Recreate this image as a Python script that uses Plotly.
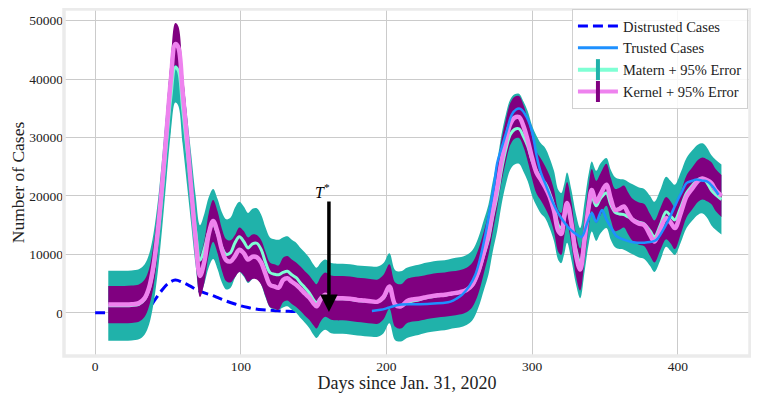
import plotly.graph_objects as go

# ---- data ----
distrust_days = [0, 5, 10, 20, 30, 35, 38, 41, 45, 50, 55, 60, 65, 70, 75, 80, 85, 90, 96, 100, 105, 110, 115, 120, 125, 130, 135, 140]
distrust_vals = [0, 0, 0, 20, 100, 400, 1100, 2200, 3600, 5000, 5600, 5200, 4600, 3900, 3400, 3000, 2500, 2000, 1500, 1200, 900, 650, 500, 420, 330, 270, 230, 210]

trust_days = [190, 196, 202, 209, 220, 230, 240, 244, 248, 252, 257, 261, 264, 268, 271, 274, 276, 280, 283, 286, 289, 292,
              296, 300, 303, 306, 310, 314, 318, 322, 326, 330, 334, 338, 341, 344, 348, 351, 354, 358, 362, 367, 372,
              377, 381, 385, 390, 395, 399, 403, 406, 410, 413, 417, 420, 424, 428]
trust_vals = [300, 500, 900, 1370, 1450, 1550, 1700, 1900, 2400, 3100, 4600, 6500, 9000, 13500, 17600, 22000, 25600, 29000,
              31500, 33900, 34800, 34900, 33600, 31000, 27000, 24000, 21500, 19000, 17000, 15500, 14300, 13500, 13000,
              15500, 17100, 15600, 17600, 16000, 14700, 13100, 12600, 12200, 12000, 12000, 12100, 12400, 14200, 16600,
              18800, 20800, 22200, 22600, 22800, 22600, 22500, 21600, 20200]

days = [9, 15, 20, 25, 30, 34, 37, 40, 43, 46, 49, 52, 55, 57, 60, 63, 66, 69, 72, 75, 78, 81, 84, 87, 90, 93, 96, 99,
        102, 105, 108, 111, 114, 117, 120, 123, 126, 129, 132, 135, 138, 141, 144, 147, 150, 152, 155, 158, 162, 166,
        170, 175, 180, 185, 190, 194, 198, 202, 206, 210, 214, 218, 222, 226, 230, 235, 240, 245, 250, 255, 259, 263,
        267, 270, 273, 276, 279, 282, 285, 288, 291, 294, 297, 300, 303, 306, 309, 312, 315, 318, 320, 322, 324, 327,
        330, 333, 336, 339, 341, 344, 347, 351, 354, 357, 360, 363, 366, 369, 373, 377, 381, 384, 388, 392, 395, 398,
        402, 406, 410, 414, 417, 420, 423, 426, 430]

kernel = [1400, 1400, 1400, 1450, 1650, 2500, 4300, 8000, 14000, 22000, 31000, 40000, 46000, 45500, 38000, 30000, 21000,
          12500, 6300, 8800, 13500, 15700, 13800, 10800, 9000, 8800, 9700, 10800, 10200, 9100, 9600, 9500, 8600, 6600,
          4800, 4500, 4300, 5600, 5900, 5300, 4800, 4100, 3300, 2600, 1600, 1100, 2400, 3100, 2600, 2500, 2500, 2400,
          2200, 2100, 1950, 1900, 2700, 4500, 1400, 1100, 2000, 2300, 2400, 2600, 2800, 3000, 3100, 3300, 3500, 3900,
          4800, 7000, 10500, 13500, 17500, 21500, 26000, 29500, 32300, 33400, 33500, 32000, 29500, 26500, 24000, 22800,
          21500, 19900, 17500, 14000, 13500, 16500, 18800, 15300, 10000, 7400, 12500, 18500, 21000, 19000, 20300, 21900,
          19500, 17600, 17800, 18200, 17000, 15900, 15300, 15000, 13300, 12200, 14300, 16200, 15500, 14500, 17000,
          19900, 21300, 22600, 23000, 22700, 22200, 21000, 20000]

matern = [1200, 1200, 1200, 1250, 1450, 2300, 4000, 7500, 13000, 20500, 29000, 37000, 42000, 41500, 35000, 28000, 21000,
          14000, 9000, 11000, 13800, 15200, 13500, 11200, 10000, 10300, 12000, 13000, 12200, 11100, 11800, 11900, 10800,
          8600, 6900, 6600, 6500, 6900, 7100, 6500, 6000, 5100, 4300, 3400, 2200, 1700, 2600, 3100, 2500, 2400, 2400,
          2300, 2100, 2000, 1900, 1900, 2500, 4200, 1300, 1100, 1700, 2000, 2200, 2500, 2700, 2900, 3000, 3300, 3500,
          3900, 4700, 6800, 10000, 12500, 16500, 20000, 24500, 28000, 30500, 31400, 31500, 30200, 28500, 26000, 24300,
          23000, 22200, 20500, 18300, 15000, 14500, 16000, 18000, 15000, 11000, 8500, 13000, 18000, 19900, 18300, 19600,
          20500, 18500, 17200, 16900, 16800, 16400, 16000, 15500, 15200, 14000, 13000, 15000, 17300, 16600, 15900,
          18000, 20500, 21800, 22800, 23000, 22300, 21000, 20200, 19400]

kernel_err = [3200] * 7 + [3600] * 20 + [3800] * 45 + [3600] * 53
matern_err = [6000] * 125

# ---- figure ----
fig = go.Figure()

fig.add_trace(go.Scatter(x=distrust_days, y=distrust_vals, mode='lines', showlegend=False,
                         line=dict(color='#0000ff', width=3, dash='10px,5px', shape='spline')))

# Matern 95% band
fig.add_trace(go.Scatter(x=days, y=[m + e for m, e in zip(matern, matern_err)], mode='lines',
                         line=dict(width=0, shape='spline'), showlegend=False, hoverinfo='skip'))
fig.add_trace(go.Scatter(x=days, y=[m - e for m, e in zip(matern, matern_err)], mode='lines',
                         line=dict(width=0, shape='spline'), fill='tonexty', fillcolor='#20b2aa',
                         showlegend=False, hoverinfo='skip'))
# Kernel 95% band
fig.add_trace(go.Scatter(x=days, y=[k + e for k, e in zip(kernel, kernel_err)], mode='lines',
                         line=dict(width=0, shape='spline'), showlegend=False, hoverinfo='skip'))
fig.add_trace(go.Scatter(x=days, y=[k - e for k, e in zip(kernel, kernel_err)], mode='lines',
                         line=dict(width=0, shape='spline'), fill='tonexty', fillcolor='#800080',
                         showlegend=False, hoverinfo='skip'))

fig.add_trace(go.Scatter(x=days, y=matern, mode='lines', showlegend=False,
                         line=dict(color='#7fffd4', width=3, shape='spline')))
fig.add_trace(go.Scatter(x=days, y=kernel, mode='lines', showlegend=False,
                         line=dict(color='#ee82ee', width=4.5, shape='spline')))
fig.add_trace(go.Scatter(x=trust_days, y=trust_vals, mode='lines', showlegend=False,
                         line=dict(color='#1e90ff', width=2.5, shape='spline')))

# legend entries
fig.add_trace(go.Scatter(x=[None], y=[None], mode='lines', name='Distrusted Cases',
                         line=dict(color='#0000ff', width=3, dash='10px,5px')))
fig.add_trace(go.Scatter(x=[None], y=[None], mode='lines', name='Trusted Cases',
                         line=dict(color='#1e90ff', width=3)))
fig.add_trace(go.Scatter(x=[None], y=[None], mode='lines+markers', name='Matern + 95% Error',
                         line=dict(color='#7fffd4', width=4),
                         marker=dict(symbol='line-ns', size=15, line=dict(color='#20b2aa', width=4))))
fig.add_trace(go.Scatter(x=[None], y=[None], mode='lines+markers', name='Kernel + 95% Error',
                         line=dict(color='#ee82ee', width=4),
                         marker=dict(symbol='line-ns', size=15, line=dict(color='#800080', width=4))))

# T* arrow
fig.add_annotation(x=160.5, y=150, ax=160.5, ay=19300, xref='x', yref='y', axref='x', ayref='y',
                   showarrow=True, arrowhead=2, arrowsize=1.0, arrowwidth=3.5, arrowcolor='black',
                   standoff=0, text='')
fig.add_annotation(x=156, y=20900, xref='x', yref='y', showarrow=False,
                   text='<i>T</i><sup>*</sup>', font=dict(size=16, color='black'))

# light grey axes frame
fig.add_shape(type='rect', xref='paper', yref='paper', x0=0, x1=1, y0=0, y1=1,
              line=dict(color='#ebebeb', width=3.5), layer='above')

# page body has an 8px margin, so the figure is 8px smaller and margins shifted
fig.update_layout(
    width=751, height=391,
    margin=dict(l=56, r=9, t=1, b=43, autoexpand=False),
    paper_bgcolor='white', plot_bgcolor='white',
    font=dict(family='Liberation Serif, serif', color='#222222'),
    legend=dict(x=0.997, y=1.0, xanchor='right', yanchor='top', bgcolor='rgba(255,255,255,0.85)',
                bordercolor='#d0d0d0', borderwidth=1, font=dict(size=14.5, color='#222222'),
                traceorder='normal', tracegroupgap=0, itemwidth=40),
)
fig.update_xaxes(range=[-21.4, 449.6], tickvals=[0, 100, 200, 300, 400], showgrid=True, gridcolor='#cbcbcb',
                 gridwidth=1, zeroline=False, showline=False, automargin=False, tickfont=dict(size=13.5),
                 title=dict(text='Days since Jan. 31, 2020', font=dict(size=18), standoff=2))
fig.update_yaxes(range=[-7400, 52000], tickvals=[0, 10000, 20000, 30000, 40000, 50000], tickformat='d',
                 showgrid=True, gridcolor='#cbcbcb', gridwidth=1, zeroline=False, showline=False,
                 automargin=False, tickfont=dict(size=13.5),
                 title=dict(text='Number of Cases', font=dict(size=17.5), standoff=1))

fig.write_html("out.html")
